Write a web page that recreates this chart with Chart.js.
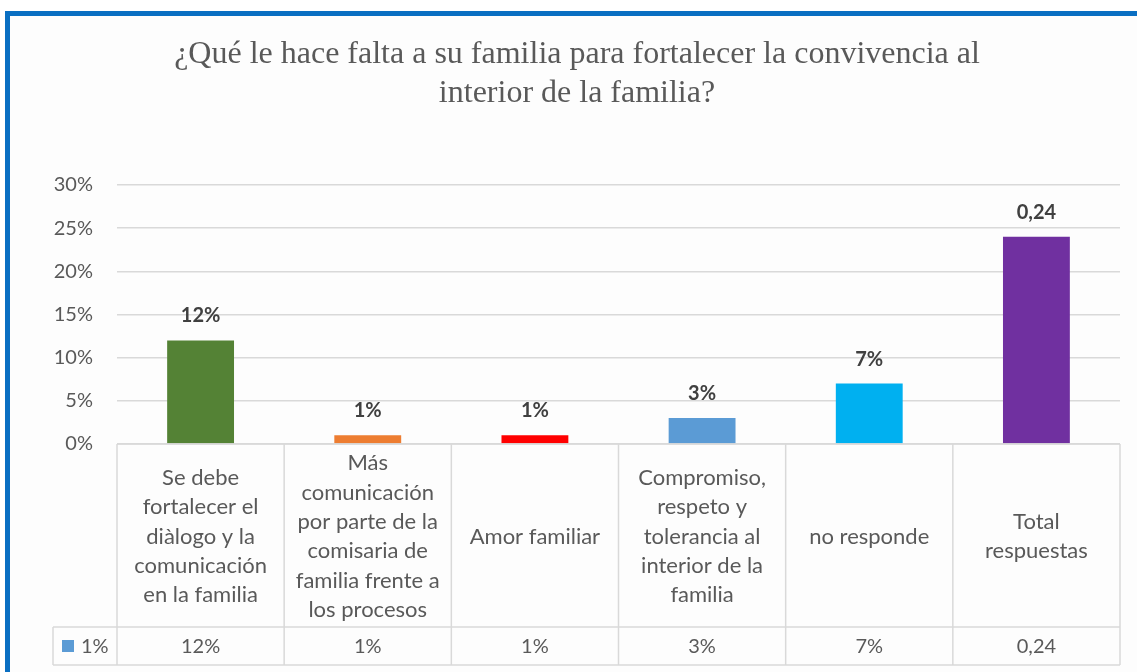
<!DOCTYPE html>
<html><head><meta charset="utf-8">
<script src="https://cdn.jsdelivr.net/npm/chart.js@4"></script>
<style>
html,body{margin:0;padding:0;background:#fff;overflow:hidden}
#frame{position:absolute;left:5px;top:11px;width:1200px;height:700px;border:5px solid #0A6FC2;background:#FDFDFD;box-sizing:border-box}
#wrap{position:absolute;left:0;top:0;width:1137px;height:672px}
</style></head>
<body>
<div id="frame"></div>
<div id="wrap"><canvas id="c" width="1137" height="672"></canvas></div>
<script>
const titleLines = ["¿Qué le hace falta a su familia para fortalecer la convivencia al", "interior de la familia?"];
const categories = [
  ["Se debe","fortalecer el","diàlogo y la","comunicación","en la familia"],
  ["Más","comunicación","por parte de la","comisaria de","familia frente a","los procesos"],
  ["Amor familiar"],
  ["Compromiso,","respeto y","tolerancia al","interior de la","familia"],
  ["no responde"],
  ["Total","respuestas"]
];
const seriesName = "1%";
const values = [0.12, 0.01, 0.01, 0.03, 0.07, 0.24];
const valueLabels = ["12%","1%","1%","3%","7%","0,24"];
const barColors = ["#548235","#ED7D31","#FF0000","#5B9BD5","#00B0F0","#7030A0"];
const legendColor = "#5B9BD5";
const yTicks = [0,0.05,0.10,0.15,0.20,0.25,0.30];

const SANS = "Lato, 'Open Sans', sans-serif";
const GRID = "#D9D9D9";
const TEXT = "#595959";

const tablePlugin = {
  id: 'tablePlugin',
  afterDraw(chart) {
    const ctx = chart.ctx, area = chart.chartArea, xs = chart.scales.x;
    const n = categories.length;
    const cw = (area.right - area.left) / n;
    const top = area.bottom;
    const rowSplit = 627, bottom = 665, legendLeft = 53;
    ctx.save();
    // title
    ctx.fillStyle = TEXT;
    ctx.font = "32px 'Liberation Serif', 'Times New Roman', serif";
    ctx.textAlign = 'center';
    ctx.textBaseline = 'alphabetic';
    ctx.fillText(titleLines[0], 577, 63);
    ctx.fillText(titleLines[1], 577, 102);
    // data labels
    ctx.font = "bold 20px " + SANS;
    ctx.fillStyle = "#404040";
    const meta = chart.getDatasetMeta(0);
    meta.data.forEach((bar, i) => {
      ctx.fillText(valueLabels[i], bar.x, bar.y - 18);
    });
    // table grid
    ctx.strokeStyle = GRID;
    ctx.lineWidth = 1.5;
    ctx.beginPath();
    ctx.moveTo(area.left, top); ctx.lineTo(area.right, top);
    ctx.moveTo(legendLeft, rowSplit); ctx.lineTo(area.right, rowSplit);
    ctx.moveTo(legendLeft, bottom); ctx.lineTo(area.right, bottom);
    ctx.moveTo(legendLeft, rowSplit); ctx.lineTo(legendLeft, bottom);
    for (let i = 0; i <= n; i++) {
      const x = area.left + i * cw;
      ctx.moveTo(x, top); ctx.lineTo(x, bottom);
    }
    ctx.stroke();
    // category labels
    ctx.fillStyle = TEXT;
    ctx.font = "22px " + SANS;
    ctx.textBaseline = 'middle';
    const lh = 29.3;
    const midCat = (top + rowSplit) / 2 + 1;
    categories.forEach((lines, i) => {
      const cx = xs.getPixelForValue(i);
      const start = midCat - (lines.length - 1) * lh / 2;
      lines.forEach((l, j) => ctx.fillText(l, cx, start + j * lh));
    });
    // values row
    ctx.font = "20px " + SANS;
    const midVal = (rowSplit + bottom) / 2 + 1;
    valueLabels.forEach((v, i) => ctx.fillText(v, xs.getPixelForValue(i), midVal));
    // legend key
    ctx.fillStyle = legendColor;
    ctx.fillRect(62, 640, 12, 12);
    ctx.fillStyle = TEXT;
    ctx.textAlign = 'left';
    ctx.fillText(seriesName, 81, midVal);
    ctx.restore();
  }
};

new Chart(document.getElementById('c'), {
  type: 'bar',
  data: {
    labels: categories.map(c => c.join(' ')),
    datasets: [{
      label: seriesName,
      data: values,
      backgroundColor: barColors,
      borderWidth: 0,
      categoryPercentage: 1,
      barPercentage: 0.4
    }]
  },
  options: {
    responsive: false,
    animation: false,
    devicePixelRatio: 1,
    layout: { padding: { top: 185, right: 17, left: 0, bottom: 0 } },
    plugins: { legend: { display: false }, title: { display: false }, tooltip: { enabled: false } },
    scales: {
      x: {
        grid: { display: false },
        border: { display: false },
        ticks: { display: false },
        afterFit(s) { s.height = 228; }
      },
      y: {
        min: 0, max: 0.30,
        afterBuildTicks(s) { s.ticks = yTicks.map(v => ({ value: v })); },
        grid: { color: GRID, lineWidth: 1.5, drawTicks: false },
        border: { display: false },
        ticks: {
          padding: 24,
          color: TEXT,
          font: { family: SANS, size: 20 },
          callback: v => Math.round(v * 100) + '%'
        },
        afterFit(s) { s.width = 117; }
      }
    }
  },
  plugins: [tablePlugin]
});
</script>
</body></html>
